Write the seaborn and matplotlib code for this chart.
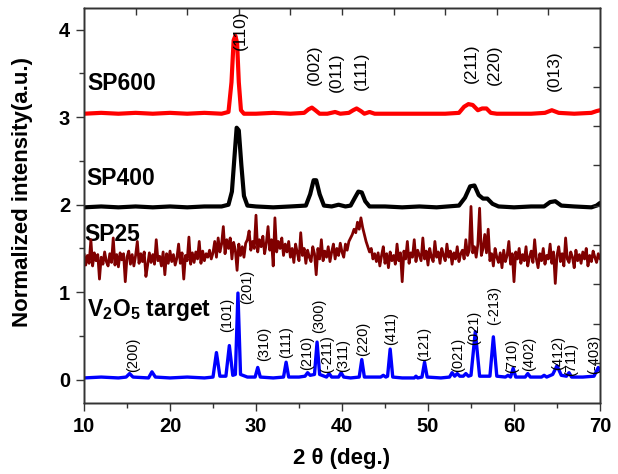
import numpy as np
import pandas as pd
import matplotlib
matplotlib.use("Agg")
import matplotlib.pyplot as plt
import seaborn as sns

# ---------------- data ----------------
v2o5_x = [10.0, 12.0, 14.0, 14.9, 15.3, 15.7, 17.5, 17.9, 18.3, 20.0, 22.0, 24.0,
          25.0, 25.4, 25.8, 26.5, 26.9, 27.3, 27.6, 27.9, 28.2, 29.0, 29.9, 30.2,
          30.5, 32.0, 33.2, 33.5, 33.8, 35.0, 35.7, 36.0, 36.3, 36.8, 37.1, 37.4,
          38.2, 38.5, 38.8, 39.6, 39.9, 40.2, 41.0, 42.0, 42.3, 42.6, 44.5, 44.8,
          45.1, 45.3, 45.6, 45.9, 47.0, 48.4, 48.6, 48.8, 49.3, 49.6, 49.9, 51.5,
          52.5, 52.8, 53.1, 53.4, 53.7, 54.1, 54.4, 54.7, 55.0, 55.5, 56.0, 57.2,
          57.6, 58.0, 59.0, 59.3, 59.6, 59.9, 60.2, 61.3, 61.6, 61.9, 63.2, 63.5,
          63.8, 64.5, 65.0, 65.5, 66.1, 66.4, 66.7, 68.0, 69.3, 69.8, 70.0]
v2o5_y = [0.02, 0.03, 0.02, 0.03, 0.07, 0.03, 0.02, 0.09, 0.03, 0.02, 0.03, 0.02,
          0.03, 0.31, 0.04, 0.04, 0.39, 0.05, 0.06, 0.99, 0.06, 0.03, 0.03, 0.14,
          0.03, 0.02, 0.03, 0.20, 0.03, 0.03, 0.04, 0.08, 0.05, 0.06, 0.43, 0.06,
          0.03, 0.07, 0.03, 0.03, 0.08, 0.03, 0.02, 0.03, 0.23, 0.03, 0.03, 0.05,
          0.03, 0.04, 0.35, 0.03, 0.02, 0.02, 0.04, 0.02, 0.03, 0.20, 0.03, 0.02,
          0.03, 0.08, 0.04, 0.07, 0.04, 0.04, 0.07, 0.04, 0.05, 0.55, 0.04, 0.04,
          0.49, 0.04, 0.03, 0.05, 0.03, 0.13, 0.03, 0.03, 0.07, 0.03, 0.03, 0.05,
          0.03, 0.06, 0.16, 0.05, 0.04, 0.08, 0.03, 0.03, 0.04, 0.14, 0.10]

sp600_x = [10, 12, 14, 16, 18, 20, 22, 24, 26, 26.8, 27.15, 27.4, 27.6, 27.8, 28.0,
           28.25, 28.6, 30, 32, 34, 35.6, 36.1, 36.5, 36.9, 37.4, 38.3, 39.2, 39.8,
           40.8, 41.3, 41.7, 42.2, 42.6, 43.2, 43.8, 46, 48, 50, 52, 53.6, 54.2,
           54.7, 55.2, 55.8, 56.3, 56.8, 57.3, 58.0, 60, 62, 63.6, 64.4, 65.2, 67,
           69, 69.6, 70]
sp600_y = [3.04, 3.05, 3.04, 3.05, 3.04, 3.05, 3.04, 3.05, 3.04, 3.06, 3.40, 3.88,
           3.93, 3.85, 3.40, 3.08, 3.04, 3.04, 3.05, 3.04, 3.05, 3.09, 3.11, 3.08,
           3.04, 3.04, 3.06, 3.04, 3.05, 3.08, 3.10, 3.07, 3.04, 3.06, 3.04, 3.04,
           3.04, 3.04, 3.04, 3.05, 3.12, 3.15, 3.14, 3.08, 3.10, 3.10, 3.05, 3.04,
           3.04, 3.04, 3.05, 3.08, 3.05, 3.04, 3.05, 3.07, 3.08]

sp400_x = [10, 12, 14, 16, 18, 20, 22, 24, 26, 26.8, 27.2, 27.5, 27.75, 28.0, 28.3,
           28.6, 29.0, 30, 32, 34, 35.8, 36.3, 36.7, 37.0, 37.4, 37.9, 38.8, 39.6,
           40.4, 41.0, 41.5, 41.9, 42.3, 42.7, 43.2, 45, 47, 49, 51, 53.6, 54.3,
           54.9, 55.4, 55.9, 56.4, 56.9, 57.5, 58.2, 60, 62, 63.5, 64.2, 64.8, 65.5,
           67, 69, 69.6, 70]
sp400_y = [1.97, 1.98, 1.97, 1.98, 1.97, 1.98, 1.97, 1.98, 1.98, 2.00, 2.15, 2.55,
           2.88, 2.85, 2.45, 2.10, 1.99, 1.98, 1.97, 1.98, 1.99, 2.12, 2.28, 2.28,
           2.12, 1.99, 1.98, 2.00, 1.98, 1.99, 2.08, 2.15, 2.14, 2.04, 1.98, 1.98,
           1.97, 1.98, 1.97, 1.99, 2.08, 2.21, 2.22, 2.11, 2.07, 2.07, 2.01, 1.98,
           1.97, 1.98, 1.98, 2.03, 2.04, 1.99, 1.98, 1.97, 1.99, 2.02]

# SP25: scan from 10 to 70 deg, 0.2 deg step
sp25_start, sp25_step = 10.0, 0.2
sp25_y = [
    1.44, 1.31, 1.42, 1.33, 1.60, 1.30, 1.45, 1.36, 1.43, 1.15,
    1.40, 1.32, 1.46, 1.35, 1.30, 1.44, 1.34, 1.62, 1.31, 1.43,
    1.29, 1.45, 1.37, 1.44, 1.12, 1.40, 1.47, 1.32, 1.43, 1.30,
    1.42, 1.58, 1.33, 1.44, 1.35, 1.46, 1.18, 1.31, 1.45, 1.34,
    1.43, 1.32, 1.60, 1.36, 1.41, 1.30, 1.46, 1.20, 1.44, 1.33,
    1.47, 1.35, 1.43, 1.31, 1.39, 1.55, 1.33, 1.45, 1.15, 1.42,
    1.36, 1.63, 1.32, 1.45, 1.34, 1.46, 1.38, 1.58, 1.33, 1.47,
    1.36, 1.44, 1.40, 1.48, 1.38,
    1.45, 1.58, 1.40, 1.62, 1.46, 1.55, 1.75, 1.44, 1.60, 1.50,
    1.62, 1.38, 1.57, 1.48, 1.25, 1.55, 1.42, 1.52, 1.40, 1.56,
    1.60, 1.70, 1.48, 1.58, 1.50, 1.88, 1.46, 1.60, 1.52, 1.64,
    1.44, 1.56, 1.75, 1.48, 1.60, 1.30, 1.85, 1.46, 1.58, 1.50,
    1.62, 1.42, 1.55, 1.46, 1.58,
    1.40, 1.50, 1.34, 1.55, 1.45, 1.36, 1.68, 1.42, 1.50, 1.33,
    1.48, 1.40, 1.35, 1.52, 1.44, 1.20, 1.50, 1.38, 1.60, 1.36,
    1.47, 1.40, 1.52, 1.35, 1.46, 1.55, 1.38, 1.50, 1.42, 1.56,
    1.46, 1.40, 1.55, 1.48, 1.58, 1.62, 1.66, 1.72, 1.68, 1.80,
    1.72, 1.85, 1.74, 1.66, 1.58, 1.52, 1.46, 1.50, 1.38, 1.44,
    1.35, 1.45, 1.30, 1.42, 1.52, 1.33, 1.44, 1.28, 1.46, 1.36,
    1.42, 1.32, 1.55, 1.36, 1.45, 1.12, 1.47, 1.38, 1.58, 1.33,
    1.45, 1.40, 1.60, 1.35, 1.48, 1.42, 1.36, 1.62, 1.38, 1.47,
    1.31, 1.50, 1.40, 1.35, 1.58, 1.40, 1.46, 1.33, 1.50, 1.42,
    1.36, 1.55, 1.40, 1.47, 1.32, 1.45, 1.38, 1.52, 1.35, 1.44,
    1.48, 1.38, 1.60, 1.42,
    1.48, 1.98, 1.45, 1.52, 1.40, 1.55, 1.96, 1.42, 1.50, 1.66,
    1.45, 1.72, 1.36, 1.44, 1.30, 1.50, 1.40, 1.34, 1.45, 1.28,
    1.48, 1.35, 1.42, 1.58, 1.32, 1.44, 1.12, 1.46, 1.38, 1.50,
    1.33, 1.43, 1.36, 1.52, 1.30, 1.40, 1.47, 1.34, 1.60, 1.38,
    1.28, 1.44, 1.36, 1.50, 1.32, 1.42, 1.38, 1.55, 1.33, 1.46,
    1.10, 1.42, 1.52, 1.35, 1.44, 1.30, 1.62, 1.38, 1.34, 1.46,
    1.40, 1.28, 1.48, 1.36, 1.43, 1.33, 1.46, 1.38, 1.50, 1.30,
    1.42, 1.35, 1.47, 1.40, 1.34, 1.44, 1.38]
sp25_x = [sp25_start + sp25_step * i for i in range(len(sp25_y))]

sample_names = ["SP600", "SP400", "SP25", "V$_\\mathbf{2}$O$_\\mathbf{5}$ target"]

top_labels = ["(110)", "(002)", "(011)", "(111)", "(211)", "(220)", "(013)"]
top_label_x = [28.2, 36.8, 39.3, 42.3, 55.0, 57.7, 64.7]
top_label_y = [3.77, 3.37, 3.29, 3.31, 3.39, 3.37, 3.30]

v2o5_labels = ["(200)", "(101)", "(201)", "(310)", "(111)", "(210)", "(300)",
               "(-211)", "(311)", "(220)", "(411)", "(121)", "(021)", "(021)",
               "(-213)", "(710)", "(402)", "(412)", "(711)", "(-403)"]
v2o5_label_x = [15.7, 26.7, 29.0, 31.0, 33.5, 35.9, 37.3, 38.3, 40.1, 42.4, 45.7,
                49.6, 53.5, 55.4, 57.7, 59.8, 61.8, 65.1, 66.7, 69.3]
v2o5_label_y = [0.09, 0.55, 0.86, 0.21, 0.25, 0.11, 0.53, 0.08, 0.09, 0.27, 0.40,
                0.21, 0.09, 0.40, 0.63, 0.08, 0.10, 0.11, 0.04, 0.06]

x_ticks = [10, 20, 30, 40, 50, 60, 70]
y_ticks = [0, 1, 2, 3, 4]

# ---------------- style ----------------
sns.set_theme(style="ticks")
plt.rcParams["font.family"] = ["Liberation Sans", "DejaVu Sans"]
plt.rcParams["mathtext.fontset"] = "custom"
plt.rcParams["mathtext.rm"] = "Liberation Sans"
plt.rcParams["mathtext.bf"] = "Liberation Sans:bold"
plt.rcParams["text.color"] = "black"
plt.rcParams["axes.labelcolor"] = "black"
plt.rcParams["xtick.color"] = "#333333"
plt.rcParams["ytick.color"] = "#333333"
plt.rcParams["xtick.labelcolor"] = "black"
plt.rcParams["ytick.labelcolor"] = "black"

fig = plt.figure(figsize=(6.18, 4.74), dpi=100)
ax = fig.add_axes([84 / 618, 1 - 402.7 / 474, (600 - 84) / 618, (402.7 - 8.3) / 474])

df_blue = pd.DataFrame({"x": v2o5_x, "y": v2o5_y})
df_sp25 = pd.DataFrame({"x": sp25_x, "y": sp25_y})
df_sp400 = pd.DataFrame({"x": sp400_x, "y": sp400_y})
df_sp600 = pd.DataFrame({"x": sp600_x, "y": sp600_y})

# sample names (SP25 lies beneath its noisy trace)
name_kw = dict(fontsize=16.5, fontweight="bold", ha="left", va="baseline", color="black")
ax.text(10.35, 3.31, sample_names[0], zorder=5, **name_kw)
ax.text(10.3, 2.225, sample_names[1], zorder=5, **name_kw)
ax.text(10.0, 1.585, sample_names[2], zorder=1, **name_kw)
ax.text(10.3, 0.73, sample_names[3], zorder=5, **name_kw)

sns.lineplot(data=df_blue, x="x", y="y", ax=ax, color="#0000ff", lw=2.4,
             sort=False, estimator=None, zorder=2)
sns.lineplot(data=df_sp25, x="x", y="y", ax=ax, color="#800000", lw=2.0,
             sort=False, estimator=None, zorder=3)
sns.lineplot(data=df_sp400, x="x", y="y", ax=ax, color="black", lw=3.0,
             sort=False, estimator=None, zorder=3.5)
sns.lineplot(data=df_sp600, x="x", y="y", ax=ax, color="#ff0000", lw=3.0,
             sort=False, estimator=None, zorder=4)

for t, x, y in zip(top_labels, top_label_x, top_label_y):
    ax.text(x, y, t, rotation=90, ha="center", va="bottom", fontsize=12.5,
            color="black", zorder=6)
for t, x, y in zip(v2o5_labels, v2o5_label_x, v2o5_label_y):
    ax.text(x, y, t, rotation=90, ha="center", va="bottom", fontsize=10.5,
            color="black", zorder=6)

ax.set_xlim(10, 70)
ax.set_ylim(-0.263, 4.245)
ax.set_xticks(x_ticks)
ax.set_xticks([15, 25, 35, 45, 55, 65], minor=True)
ax.set_yticks(y_ticks)
ax.set_yticks([0.5, 1.5, 2.5, 3.5], minor=True)
ax.tick_params(axis="both", which="major", direction="out", length=6, width=1,
               color="#333333", labelsize=14.5, pad=4)
ax.tick_params(axis="both", which="minor", direction="out", length=3.5, width=1,
               color="#333333")
for lab in ax.get_xticklabels() + ax.get_yticklabels():
    lab.set_fontweight("bold")
    lab.set_color("black")
ax.set_xlabel("2 θ (deg.)", fontsize=16, fontweight="bold", labelpad=9, color="black")
ax.set_ylabel("Normalized intensity(a.u.)", fontsize=16, fontweight="bold", color="black")
ax.yaxis.set_label_coords(-0.098, 0.534)
for s in ax.spines.values():
    s.set_visible(True)
    s.set_color("#333333")
    s.set_linewidth(1.0)

# mirrored inner ticks on top and right
ax_top = ax.twiny()
ax_top.set_xlim(ax.get_xlim())
ax_top.set_xticks([16, 22, 28, 34, 40, 46, 52, 58, 64])
ax_top.tick_params(axis="x", direction="in", length=5, width=1, color="#333333",
                   labeltop=False)
ax_right = ax.twinx()
ax_right.set_ylim(ax.get_ylim())
ax_right.set_yticks([0.19, 0.64, 1.09, 1.54, 1.99, 2.45, 2.90, 3.35, 3.80])
ax_right.tick_params(axis="y", direction="in", length=5, width=1, color="#333333",
                     labelright=False)
for a in (ax_top, ax_right):
    a.grid(False)
    for s in a.spines.values():
        s.set_color("#333333")
        s.set_linewidth(1.0)

fig.savefig("out.png", dpi=100)
